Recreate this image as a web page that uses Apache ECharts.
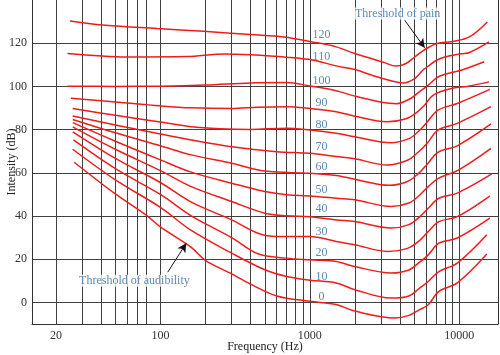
<!DOCTYPE html>
<html><head><meta charset="utf-8">
<script src="https://cdn.jsdelivr.net/npm/echarts@6/dist/echarts.min.js"></script>
<style>html,body{margin:0;padding:0;background:#fff}#c{width:500px;height:355px}</style>
</head><body><div id="c"></div>
<script>
// Equal-loudness contours (phon levels)
const phonLevels = [0,10,20,30,40,50,60,70,80,90,100,110,120];

const curve0 = [[26.5,64.9],[50,50.2],[80,40.5],[100,35.0],[161,25.5],[200,19.5],[300,13.2],[400,8.5],[600,3.0],[1000,0.5],[1500,-1.0],[2000,-4.0],[3700,-7.2],[4600,-6.0],[5400,-3.5],[6200,-1.1],[7300,5.1],[9700,9.0],[15300,22.4]];
const curve10 = [[25.9,70.9],[50,56.7],[100,44.0],[161,33.3],[300,22.8],[500,15.1],[700,12.0],[1000,10.3],[1500,9.0],[2000,5.9],[3500,2.0],[4600,3.0],[5400,6.5],[6200,9.7],[7300,14.3],[9700,18.2],[15300,31.3]];
const curve20 = [[26.2,75.2],[50,61.9],[100,50.0],[161,40.1],[300,30.0],[450,22.5],[700,20.5],[1000,19.7],[1500,18.9],[2000,16.6],[3500,13.6],[4600,15.0],[5400,18.5],[6200,22.0],[7300,27.4],[9700,29.8],[16000,39.0]];
const curve30 = [[25.9,79.0],[50,66.7],[100,55.5],[161,46.4],[300,38.2],[450,32.0],[600,30.5],[1000,30.5],[1500,28.2],[2000,26.7],[3300,23.6],[4500,25.0],[5400,28.5],[6200,32.8],[7300,37.4],[9700,39.7],[16000,49.2]];
const curve40 = [[25.9,81.3],[50,70.9],[100,61.0],[161,53.6],[300,46.7],[500,41.3],[700,40.1],[1000,39.7],[1500,38.2],[2000,37.4],[3500,34.4],[4600,36.0],[5400,39.5],[6200,43.6],[7300,48.2],[9700,50.6],[16500,59.5]];
const curve50 = [[25.9,83.2],[50,74.6],[100,66.0],[161,60.3],[300,55.2],[500,51.3],[700,49.8],[1000,49.3],[1500,48.2],[2000,47.5],[3500,44.4],[4600,46.0],[5400,49.5],[6200,53.6],[7300,57.5],[10000,61.5],[16300,71.3]];
const curve60 = [[25.9,84.7],[50,78.5],[100,72.5],[161,68.3],[300,64.4],[500,60.8],[1000,59.8],[1500,58.8],[2000,57.0],[3400,54.2],[4500,56.0],[5300,59.5],[6100,64.0],[7200,69.5],[9700,72.5],[16300,82.6]];
const curve70 = [[25.9,86.3],[50,82.1],[100,78.0],[161,75.2],[300,72.1],[600,69.8],[1000,69.0],[1500,67.5],[2000,66.5],[3300,63.6],[4500,65.8],[5300,69.5],[6100,73.7],[7200,79.8],[9700,82.9],[16300,90.6]];
const curve80 = [[25.9,89.8],[50,86.6],[100,83.5],[161,81.3],[250,80.4],[400,80.1],[700,80.6],[1000,79.8],[1500,78.3],[2000,76.7],[3500,73.9],[4600,75.8],[5300,79.0],[6000,82.9],[7200,89.0],[9700,92.1],[16000,98.6]];
const curve90 = [[25.2,94.5],[50,92.8],[100,91.0],[161,90.1],[300,89.8],[450,90.4],[700,90.6],[1000,89.8],[1500,88.3],[2000,86.2],[3300,83.6],[4400,85.0],[5200,88.0],[5800,91.0],[6700,96.0],[9000,99.1],[11500,100.1],[15800,102.1]];
const curve100 = [[23.8,100.1],[50,100.0],[100,100.1],[200,100.6],[400,101.6],[700,101.8],[1000,100.2],[1500,98.0],[2000,95.5],[3100,92.5],[3800,92.0],[4700,94.3],[5400,97.5],[6200,100.6],[7300,104.6],[10300,107.5],[14700,111.4]];
const curve110 = [[23.9,115.2],[60,113.6],[150,113.8],[270,115.0],[400,114.6],[700,113.5],[1040,112.2],[1500,109.5],[2000,107.8],[2600,105.2],[3200,103.3],[4200,101.6],[5000,103.5],[5700,107.5],[6300,109.7],[7000,112.0],[8000,113.6],[10300,115.1],[11700,115.7],[15800,120.6]];
const curve120 = [[24.8,130.3],[43,128.3],[95,126.8],[195,125.5],[400,124.0],[670,122.9],[1040,120.6],[1500,118.3],[2000,115.2],[3100,111.2],[3800,109.4],[4400,110.6],[5000,113.5],[5800,116.8],[7100,119.9],[9000,120.8],[11700,122.9],[15400,129.8]];

const curves = [curve0,curve10,curve20,curve30,curve40,curve50,curve60,curve70,curve80,curve90,curve100,curve110,curve120];

const gridFreqs = [20,30,40,50,60,70,80,100,200,300,400,500,600,700,800,900,1000,2000,3000,4000,5000,6000,7000,8000,9000,10000];
const xTickLabels = [20,100,1000,10000];
const yTickLabels = [0,20,40,60,80,100,120];

// curve labels (phon values), anchored at one frequency
const labelFreq = 1195;
const labelDb = [2.8,12.0,22.8,32.8,43.2,52.1,62.6,71.8,82.4,92.4,102.6,113.7,123.7];

// annotations
const painText = {text:'Threshold of pain', freq:3870, db:133.7};
const painArrow = [[4315,130.6],[5870,117.9]];
const audText = {text:'Threshold of audibility', freq:67, db:10.0};
const audArrow = [[112,14.0],[149,27.4]];

const FONT = "'Liberation Serif','Times New Roman',serif";
const RED = '#f01c1c';
const BLUE = '#2f6aa6';
const GRIDC = '#404040';

const chart = echarts.init(document.getElementById('c'), null, {renderer:'canvas'});

const series = curves.map((c,i)=>({
  type:'line', name:String(phonLevels[i]), data:c, smooth:0.35, showSymbol:false, silent:true,
  lineStyle:{color:RED, width:1.5}, z:3
}));

series.push({
  type:'scatter', silent:true, symbolSize:1, itemStyle:{color:'rgba(0,0,0,0)'}, z:4,
  data: phonLevels.map((p,i)=>({name:String(p), value:[labelFreq, labelDb[i]]})),
  label:{show:true, position:'inside', formatter:'{b}', color:BLUE, fontFamily:FONT, fontSize:12}
});

series.push({
  type:'scatter', silent:true, symbolSize:1, itemStyle:{color:'rgba(0,0,0,0)'}, z:4,
  data:[{name:painText.text, value:[painText.freq, painText.db]},{name:audText.text, value:[audText.freq, audText.db]}],
  label:{show:true, position:'inside', formatter:'{b}', color:BLUE, fontFamily:FONT, fontSize:12,
         backgroundColor:'#fff', padding:[0,1]},
  markLine:{
    silent:true, symbol:['none','arrow'], symbolSize:[7,9],
    lineStyle:{color:'#111', width:1, type:'solid'}, label:{show:false},
    data:[
      [{coord:painArrow[0]},{coord:painArrow[1]}],
      [{coord:audArrow[0]},{coord:audArrow[1]}]
    ]
  }
});

chart.setOption({
  animation:false,
  backgroundColor:'#fff',
  grid:{left:32, right:2, top:0, bottom:31, containLabel:false, outerBoundsMode:'none'},
  xAxis:{
    type:'log', logBase:10, min:13.83, max:18160,
    axisLine:{show:true, onZero:false, lineStyle:{color:'#333', width:1}},
    axisTick:{show:false, customValues:gridFreqs},
    splitLine:{show:true, lineStyle:{color:GRIDC, width:1}},
    minorSplitLine:{show:false},
    axisLabel:{customValues:xTickLabels, formatter:(v)=>String(Math.round(v)), color:'#333', fontFamily:FONT, fontSize:12, margin:6},
    name:'Frequency (Hz)', nameLocation:'middle', nameGap:17, nameMoveOverlap:false,
    nameTextStyle:{color:'#222', fontFamily:FONT, fontSize:12}
  },
  yAxis:[{
    type:'value', min:-10, max:140,
    axisLine:{show:true, lineStyle:{color:'#333', width:1}},
    axisTick:{show:false, customValues:yTickLabels},
    splitLine:{show:true, lineStyle:{color:GRIDC, width:1}},
    axisLabel:{customValues:yTickLabels, color:'#333', fontFamily:FONT, fontSize:12, margin:5},
    name:'Intensity (dB)', nameLocation:'middle', nameGap:14, nameMoveOverlap:false,
    nameTextStyle:{color:'#222', fontFamily:FONT, fontSize:12}
  },{
    type:'value', min:-10, max:140, position:'right',
    axisLine:{show:true, lineStyle:{color:'#333', width:1}},
    axisTick:{show:false}, axisLabel:{show:false}, splitLine:{show:false}
  }],
  series:series
});
</script>
</body></html>
